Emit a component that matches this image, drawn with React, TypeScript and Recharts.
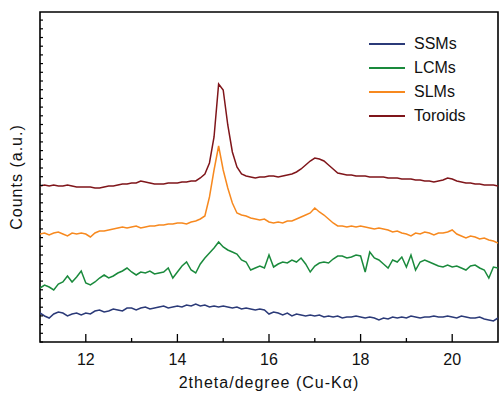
import { LineChart, Line, XAxis, YAxis, ReferenceArea, Legend } from 'recharts'

// 2theta sampling, 11 to 21 deg every 0.1
const twoTheta = Array.from({ length: 101 }, (_, i) => +(11 + i * 0.1).toFixed(1))

const ssms = [
  29, 26, 24, 28, 30, 29, 26, 28, 29, 27,
  29, 28, 31, 32, 30, 31, 33, 32, 31, 34,
  34, 32, 34, 35, 33, 34, 35, 36, 34, 35,
  36, 35, 37, 36, 38, 36, 37, 35, 36, 35,
  36, 35, 34, 35, 33, 34, 33, 32, 33, 32,
  28, 30, 29, 27, 29, 26, 28, 27, 26, 27,
  26, 27, 25, 26, 25, 26, 24, 25, 25, 26,
  25, 24, 25, 24, 22, 24, 23, 25, 24, 25,
  24, 26, 25, 24, 25, 25, 26, 25, 25, 26,
  25, 24, 26, 25, 24, 24, 25, 23, 22, 21,
  24,
]

const lcms = [
  54, 57, 55, 52, 58, 60, 66, 60, 65, 71,
  59, 57, 60, 64, 67, 64, 66, 69, 71, 74,
  70, 67, 70, 69, 71, 68, 69, 70, 74, 64,
  70, 76, 80, 72, 69, 78, 84, 89, 94, 100,
  95, 92, 90, 88, 82, 80, 72, 74, 76, 74,
  87, 75, 78, 80, 79, 82, 80, 84, 78, 70,
  76, 79, 80, 79, 83, 86, 86, 84, 85, 87,
  86, 70, 90, 84, 82, 78, 74, 82, 80, 85,
  75, 87, 72, 80, 82, 80, 78, 76, 75, 77,
  75, 76, 74, 72, 76, 77, 74, 72, 64, 75,
  74,
]

const slms = [
  108, 109, 107, 109, 110, 108, 106, 109, 108, 109,
  108, 105, 109, 111, 111, 112, 113, 114, 115, 114,
  115, 116, 114, 115, 116, 116, 117, 117, 118, 118,
  119, 119, 118, 120, 121, 123, 126, 145, 172, 196,
  172, 154, 139, 129, 127, 126, 124, 123, 122, 123,
  120, 119, 120, 119, 121, 121, 123, 125, 127, 129,
  134, 130, 127, 123, 119, 116, 116, 115, 116, 115,
  116, 115, 114, 113, 114, 113, 112, 110, 111, 109,
  108, 106, 109, 108, 110, 109, 107, 109, 109, 110,
  112, 108, 106, 104, 106, 105, 103, 104, 102, 101,
  99,
]

const toroids = [
  156, 157, 156, 157, 156, 156, 157, 156, 155, 155,
  155, 155, 154, 154, 155, 156, 156, 157, 158, 158,
  159, 159, 161, 160, 159, 158, 158, 158, 159, 159,
  159, 160, 160, 161, 161, 164, 168, 179, 205, 258,
  252, 217, 190, 175, 168, 166, 165, 164, 165, 165,
  166, 166, 165, 166, 167, 168, 170, 173, 177, 181,
  184, 183, 181, 177, 173, 169, 168, 167, 167, 166,
  166, 166, 165, 165, 165, 165, 164, 164, 164, 163,
  163, 163, 162, 162, 161, 161, 160, 161, 162, 164,
  163, 161, 160, 159, 159, 158, 158, 157, 157, 157,
  156,
]

const xTicks = [12, 13, 14, 15, 16, 17, 18, 19, 20]
const yTicks = Array.from({ length: 38 }, (_, i) => i * 8.7)

const SERIES = [
  { key: 'ssms', name: 'SSMs', color: '#2b3a78', values: ssms },
  { key: 'lcms', name: 'LCMs', color: '#1a8a3c', values: lcms },
  { key: 'slms', name: 'SLMs', color: '#f7891f', values: slms },
  { key: 'toroids', name: 'Toroids', color: '#7f151a', values: toroids },
]

const data = twoTheta.map((x, i) => {
  const row: Record<string, number> = { x }
  SERIES.forEach(s => { row[s.key] = s.values[i] })
  return row
})

const FONT = '"Liberation Sans", Arial, Helvetica, sans-serif'

function XTick({ x, y, payload }: any) {
  const major = payload.value % 2 === 0
  return (
    <g>
      <line x1={x} x2={x} y1={y} y2={y - (major ? 8 : 4)} stroke="#000" strokeWidth={1.3} />
      {major && (
        <text x={x} y={y + 23} textAnchor="middle" fontSize={16} fontFamily={FONT} fill="#111">
          {payload.value}
        </text>
      )}
    </g>
  )
}

function YTick({ x, y }: any) {
  return <line x1={x} x2={x + 3} y1={y} y2={y} stroke="#000" strokeWidth={1.2} />
}

// legend keeps the series order (recharts would sort it by name)
function LegendBox() {
  return (
    <div style={{ fontFamily: FONT, fontSize: 16, color: '#111' }}>
      {SERIES.map(s => (
        <div key={s.key} style={{ display: 'flex', alignItems: 'center', height: 24 }}>
          <svg width={36} height={4} style={{ marginRight: 9 }}>
            <line x1={0} x2={36} y1={2} y2={2} stroke={s.color} strokeWidth={2} />
          </svg>
          <span>{s.name}</span>
        </div>
      ))}
    </div>
  )
}

export default function App() {
  return (
    <div style={{ position: 'absolute', left: 0, top: 0, background: '#fff' }}>
      <LineChart width={499} height={394} data={data} margin={{ top: 12, right: 1, bottom: 0, left: 0 }}>
        <XAxis
          dataKey="x" type="number" domain={[11, 21]} ticks={xTicks} interval={0}
          allowDataOverflow height={52} axisLine={false} tickLine={false}
          tickSize={0} tickMargin={0} tick={<XTick />}
          label={{
            content: ({ viewBox }: any) => (
              <text x={viewBox.x + viewBox.width / 2} y={viewBox.y + 46} textAnchor="middle"
                    fontSize={16} fontFamily={FONT} letterSpacing={1} fill="#111">
                2theta/degree (Cu-Kα)
              </text>
            ),
          }}
        />
        <YAxis
          type="number" domain={[0, 330]} ticks={yTicks} interval={0} allowDataOverflow
          width={40} axisLine={false} tickLine={false} tickSize={0} tickMargin={0} tick={<YTick />}
          label={{
            content: ({ viewBox }: any) => {
              const cx = 22
              const cy = viewBox.y + viewBox.height / 2
              return (
                <text x={cx} y={cy} textAnchor="middle" fontSize={16} fontFamily={FONT}
                      letterSpacing={1} fill="#111" transform={`rotate(-90, ${cx}, ${cy})`}>
                  Counts (a.u.)
                </text>
              )
            },
          }}
        />
        {SERIES.map(s => (
          <Line key={s.key} dataKey={s.key} name={s.name} stroke={s.color} strokeWidth={1.5}
                dot={false} activeDot={false} type="linear" isAnimationActive={false} />
        ))}
        <ReferenceArea x1={11} x2={21} y1={0} y2={330} fill="none" stroke="#000" strokeWidth={1.6} />
        <Legend layout="vertical" align="center" verticalAlign="middle" content={<LegendBox />}
                wrapperStyle={{ position: 'absolute', left: 369, top: 32, width: 'auto', height: 'auto' }} />
      </LineChart>
    </div>
  )
}
